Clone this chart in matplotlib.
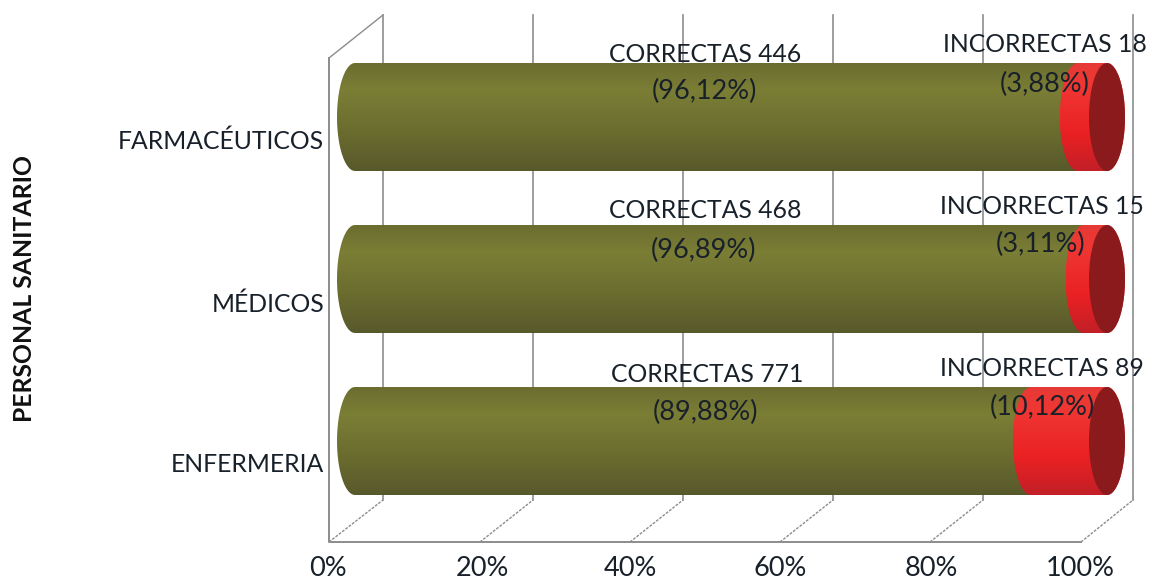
"""Stacked 3D-look cylinders: correct/incorrect answers per health-care group."""

import matplotlib
matplotlib.use("Agg")
import matplotlib.pyplot as plt
import numpy as np
from matplotlib.colors import LinearSegmentedColormap
from matplotlib.patches import Ellipse, PathPatch
from matplotlib.path import Path

categories = ["ENFERMERIA", "MÉDICOS", "FARMACÉUTICOS"]
correct_n = [771, 468, 446]
incorrect_n = [89, 15, 18]
correct_pct = [89.88, 96.89, 96.12]
incorrect_pct = [10.12, 3.11, 3.88]
x_ticks = [0, 20, 40, 60, 80, 100]

W, H = 1151, 580
X0, PX_PER_PCT = 355.0, 7.52     # pixel of 0 %, pixels per percent
Y0, PX_PER_CAT = 441.0, 162.0    # pixel of first category, pixels per category
BAR_H = 108 / PX_PER_CAT
RX = 18 / PX_PER_PCT

# hand placed label centres, pixels (same order as categories)
correct_xy = [((707, 374), (705, 412)), ((705, 211), (704, 250)), ((705, 54), (704, 91))]
incorrect_xy = [((1042, 369), (1042, 407)), ((1042, 207), (1041, 244)), ((1045, 45), (1045, 84))]
cat_y = [464, 304, 141]
tick_px = [328, 482, 630, 780, 931, 1080]

FONT = "Lato"
TEXT = "#18202a"
GRID = "#8c8c8c"
FS_WORD = 17.8
FS_NUM = 19.5

olive = LinearSegmentedColormap.from_list(
    "olive", [(0, "#6b6d30"), (0.25, "#7b7e35"), (0.6, "#6c6e2f"), (1, "#58592b")])
red = LinearSegmentedColormap.from_list(
    "red", [(0, "#e63a36"), (0.2, "#ef3733"), (0.65, "#ea2123"), (1, "#c21f27")])


def px_x(px):
    return (px - X0) / PX_PER_PCT


def px_y(px):
    return (Y0 - px) / PX_PER_CAT


def draw_tube(ax, left, right, y, cmap, z):
    """Side of a cylinder: bulges left at the start, closes on the cap's right half."""
    top, bot = y + BAR_H / 2, y - BAR_H / 2
    t = np.linspace(np.pi / 2, 3 * np.pi / 2, 40)
    t2 = np.linspace(-np.pi / 2, np.pi / 2, 40)
    xs = np.r_[left + RX * np.cos(t), right + RX * np.cos(t2)]
    ys = np.r_[y + BAR_H / 2 * np.sin(t), y + BAR_H / 2 * np.sin(t2)]
    patch = PathPatch(Path(np.c_[np.r_[xs, xs[0]], np.r_[ys, ys[0]]]),
                      facecolor="none", edgecolor="none", zorder=z)
    ax.add_patch(patch)
    grad = np.linspace(0, 1, 256).reshape(-1, 1)
    im = ax.imshow(grad, cmap=cmap, aspect="auto", zorder=z, interpolation="bilinear",
                   extent=(left - RX, right + RX, bot, top), origin="upper")
    im.set_clip_path(patch)


def label(ax, xy, s, fs):
    ax.text(px_x(xy[0]), px_y(xy[1]), s, ha="center", va="center",
            fontsize=fs, family=FONT, color=TEXT, zorder=5)


fig = plt.figure(figsize=(W / 100, H / 100), dpi=100)
ax = fig.add_axes([0, 0, 1, 1])
ax.axis("off")

# 3D frame, in pixels because it is not part of the data
FRONT = [329, 480, 630, 780, 930, 1081]
BACK = [383, 533, 683, 833, 983, 1133]
for f, b in zip(FRONT, BACK):
    ax.plot([px_x(b), px_x(b)], [px_y(15), px_y(500)], color=GRID, lw=1.2, zorder=1)
    ax.plot([px_x(f), px_x(b)], [px_y(542), px_y(500)], color=GRID, lw=1.0,
            linestyle=(0, (2, 1)), zorder=1)
ax.plot([px_x(329), px_x(329), px_x(1081)], [px_y(58), px_y(542), px_y(542)],
        color=GRID, lw=1.4, zorder=1)
ax.plot([px_x(329), px_x(383)], [px_y(58), px_y(15)], color=GRID, lw=1.0, zorder=1)

for i in range(len(categories)):
    draw_tube(ax, 0, correct_pct[i], i, olive, 2)
    draw_tube(ax, correct_pct[i], correct_pct[i] + incorrect_pct[i], i, red, 3)
    ax.add_patch(Ellipse((correct_pct[i] + incorrect_pct[i], i), 2 * RX, BAR_H,
                         facecolor="#8b1a1c", edgecolor="none", zorder=4))

    ax.text(px_x(324), px_y(cat_y[i]), categories[i], ha="right", va="center",
            fontsize=FS_WORD, family=FONT, color=TEXT, zorder=5)
    a, b = correct_xy[i]
    label(ax, a, f"CORRECTAS {correct_n[i]}", FS_WORD)
    label(ax, b, f"({correct_pct[i]:.2f}%)".replace(".", ","), FS_NUM)
    a, b = incorrect_xy[i]
    label(ax, a, f"INCORRECTAS {incorrect_n[i]}", FS_WORD)
    label(ax, b, f"({incorrect_pct[i]:.2f}%)".replace(".", ","), FS_NUM)

for v, p in zip(x_ticks, tick_px):
    label(ax, (p, 568), f"{v}%", FS_NUM)

ax.text(px_x(25), px_y(288), "PERSONAL SANITARIO", rotation=90, ha="center", va="center",
        fontsize=17.8, fontweight="bold", family=FONT, color="#111111")

ax.set_xlim(px_x(0), px_x(W))
ax.set_ylim(px_y(H), px_y(0))

fig.savefig("out.png", dpi=100)
